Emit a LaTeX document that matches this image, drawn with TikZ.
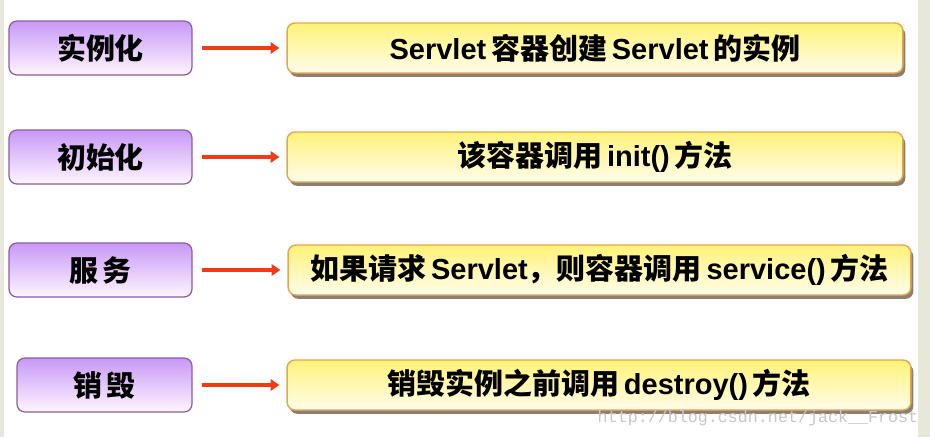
\documentclass[tikz,border=0pt]{standalone}
\usepackage{fontspec}
\setmainfont{Liberation Sans}
\setmonofont{Liberation Mono}
\newfontfamily\cjk{Noto Sans CJK SC}
\usetikzlibrary{arrows.meta,shadows}

\definecolor{stepline}{RGB}{140,92,160}
\definecolor{steptop}{RGB}{200,152,246}
\definecolor{stepbot}{RGB}{254,246,255}
\definecolor{infoline}{RGB}{226,168,80}
\definecolor{infotop}{RGB}{255,242,120}
\definecolor{infobot}{RGB}{255,253,236}
\definecolor{infoshade}{RGB}{130,112,96}
\definecolor{flowred}{RGB}{240,60,20}
\definecolor{sidebar}{RGB}{232,232,218}

\tikzset{
  stepbox/.style={draw=stepline, line width=0.7pt, rounded corners=4.5pt,
    top color=steptop, bottom color=stepbot,
    minimum width=3.66cm, minimum height=1.08cm,
    font=\fontsize{16.5}{18}\selectfont\bfseries\cjk},
  infobox/.style={draw=infoline, line width=0.8pt, rounded corners=4.5pt,
    top color=infotop, bottom color=infobot,
    drop shadow={shadow xshift=1.4pt, shadow yshift=-2.2pt, fill=infoshade, opacity=0.9},
    minimum width=12.32cm, minimum height=1.0cm,
    font=\fontsize{16.5}{18}\selectfont\bfseries},
  flow/.style={draw=flowred, line width=2.1pt,
    -{Triangle[length=5pt,width=6.5pt]},
    shorten <=0.18cm, shorten >=0.14cm},
}
\newcommand{\zh}[1]{{\cjk #1}}

\begin{document}
\begin{tikzpicture}[x=0.02cm, y=-0.02cm]

\useasboundingbox (0,0) rectangle (930,437);
\fill[white] (0,0) rectangle (930,437);
\fill[sidebar] (0,0) rectangle (4,437);
\fill[sidebar] (918,0) rectangle (930,437);

% life cycle steps
\node[stepbox] (inst) at (100.5,48) {实例化};
\node[stepbox] (init) at (100.5,157) {初始化};
\node[stepbox] (serv) at (100.5,270) {服\,务};
\node[stepbox, minimum width=3.5cm] (dest) at (104.5,385) {销\,毁};

% what the container does
\node[infobox] (instTxt) at (595,48) {Servlet\,\zh{容器创建}\,Servlet\,\zh{的实例}};
\node[infobox] (initTxt) at (595,157) {\zh{该容器调用}\,init()\,\zh{方法}};
\node[infobox, minimum width=12.46cm] (servTxt) at (599.5,270)
  {\zh{如果请求}\,Servlet\zh{，则容器调用}\,service()\,\zh{方法}};
\node[infobox, minimum width=12.48cm] (destTxt) at (599,385)
  {\zh{销毁实例之前调用}\,destroy()\,\zh{方法}};

\draw[flow] (inst) -- (instTxt);
\draw[flow] (init) -- (initTxt);
\draw[flow] (serv) -- (servTxt);
\draw[flow] (dest) -- (destTxt);

\node[text=black!22, font=\fontsize{9.5}{10}\ttfamily, inner sep=0pt] (mark) at (758,418)
  {http://blog.csdn.net/jack\_\_Frost};

\end{tikzpicture}
\end{document}
